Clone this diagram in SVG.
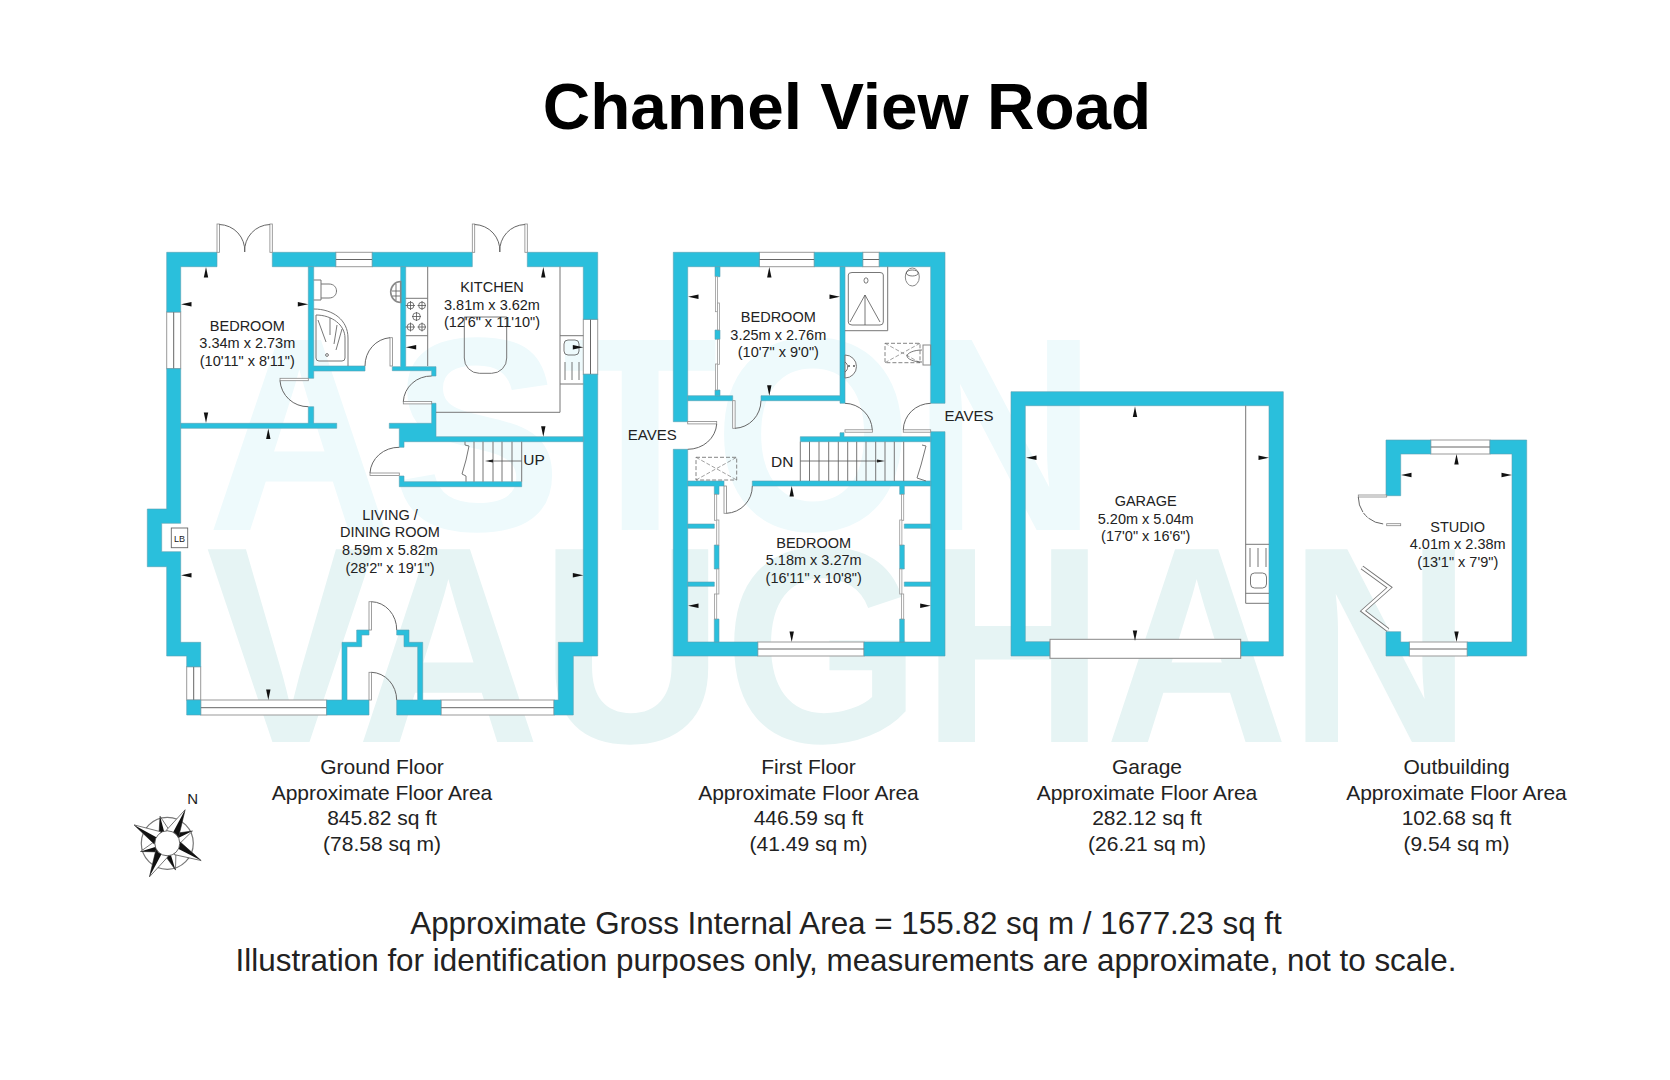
<svg xmlns="http://www.w3.org/2000/svg" xmlns:xlink="http://www.w3.org/1999/xlink" width="1670" height="1080" viewBox="0 0 1670 1080">
<style>
text{font-family:"Liberation Sans",Arial,sans-serif;fill:#222}
.r{font-size:14.5px;text-anchor:middle}
.f{font-size:21px;text-anchor:middle}
.g{font-size:31.4px;text-anchor:middle}
.w{fill:#2abfdc;stroke:#5a9fb2;stroke-width:.6}
.win{fill:#fff;stroke:#999;stroke-width:1}
.m{stroke:#666;stroke-width:1;fill:none}
.l{stroke:#777;stroke-width:1;fill:none}
.leaf{fill:#fff;stroke:#888;stroke-width:.8}
.dash{stroke:#777;stroke-width:.9;fill:none;stroke-dasharray:4 2}
.thin{stroke:#555;stroke-width:.8;fill:none}
.ol{fill:#fff;stroke:#333;stroke-width:.6}
</style>
<defs>
<polygon id="t" points="0,0 2.2,10.5 -2.2,10.5" fill="#111"/>
<g id="lr"><polygon class="ol" points="0,-38 7,-11 -7,-11"/><polygon points="0,-38 7,-11 0,-11" fill="#111"/></g>
<g id="ll"><polygon class="ol" points="0,-38 7,-11 -7,-11"/><polygon points="0,-38 -7,-11 0,-11" fill="#111"/></g>
<g id="sr"><polygon class="ol" points="0,-28 6,-10 -6,-10"/><polygon points="0,-28 6,-10 0,-10" fill="#111"/></g>
<g id="sl"><polygon class="ol" points="0,-28 6,-10 -6,-10"/><polygon points="0,-28 -6,-10 0,-10" fill="#111"/></g>
</defs>
<rect width="1670" height="1080" fill="#fff"/>
<g id="watermark" font-weight="700">
<text x="207" y="530" font-size="276" textLength="890" lengthAdjust="spacingAndGlyphs" style="fill:#eefafc">ASTON</text>
<text x="206" y="742" font-size="280" textLength="1266" lengthAdjust="spacingAndGlyphs" style="fill:#e6f4f4">VAUGHAN</text>
</g>
<text x="847" y="129" font-size="65.7" font-weight="700" text-anchor="middle" style="fill:#000">Channel View Road</text>

<g id="ground-floor">
<!-- windows -->
<rect class="win" x="166.7" y="312" width="14" height="56.7"/><path class="m" d="M173.7 312V368.7"/>
<rect class="win" x="335.7" y="252.3" width="36.6" height="14.4"/><path class="m" d="M335.7 259.5H372.3"/>
<rect class="win" x="583.3" y="319.3" width="14.4" height="55"/><path class="m" d="M590.5 319.3V374.3"/>
<rect class="win" x="186.7" y="666.7" width="14" height="33.3"/><path class="m" d="M193.7 666.7V700"/>
<rect class="win" x="200.7" y="700" width="126" height="15"/><path class="m" d="M200.7 707.7H326.7"/>
<rect class="win" x="441" y="700" width="113" height="15"/><path class="m" d="M441 707.7H554"/>
<!-- walls -->
<path class="w" d="M217 252.3H166.7V312H180.7V266.7H217Z"/>
<path class="w" d="M166.7 368.7V509H147.3V566.7H166.7V656H186.7V666.7H200.7V642.3H180.7V551.7H161.7V523.3H180.7V368.7Z"/>
<path class="w" d="M272.3 252.3H335.7V266.7H272.3Z"/>
<path class="w" d="M372.3 252.3H472.3V266.7H372.3Z"/>
<path class="w" d="M527.3 252.3H597.7V319.3H583.3V266.7H527.3Z"/>
<path class="w" d="M583.3 374.3H597.7V656H573.3V715H554V700H558.3V642.3H583.3Z"/>
<path class="w" d="M186.7 700H200.7V715H186.7Z"/>
<path class="w" d="M308.3 266.7H313.7V366H365V371H313.7V378.3H308.3Z"/>
<path class="w" d="M308.3 406.7H313.7V423.3H336.7V428.3H180.7V423.3H308.3Z"/>
<path class="w" d="M400.7 266.7H405.7V366.7H436V376H431.7V370.7H392.3V366.7H400.7Z"/>
<path class="w" d="M431.7 403.3H436V436.7H583.3V441.7H404V447.3H399.3V428.3H389.3V423.3H431.7Z"/>
<path class="w" d="M399.3 476H404V481.7H521.7V486.7H399.3Z"/>
<path class="w" d="M326.7 700H342V642.3H356.7V630H369V635H361.7V646.7H347V700H369V715H326.7Z"/>
<path class="w" d="M396.7 630H409V642.3H422.7V700H441V715H396.7V700H417.7V646.7H404V635H396.7Z"/>
<!-- doors -->
<rect class="leaf" x="217" y="224" width="2.4" height="28.3"/><rect class="leaf" x="269.9" y="224" width="2.4" height="28.3"/>
<path class="m" d="M219.4 224.5A26 26 0 0 1 244.7 252M269.9 224.5A26 26 0 0 0 244.7 252"/>
<rect class="leaf" x="472.3" y="224" width="2.4" height="28.3"/><rect class="leaf" x="524.9" y="224" width="2.4" height="28.3"/>
<path class="m" d="M474.7 224.5A26 26 0 0 1 499.8 252M524.9 224.5A26 26 0 0 0 499.8 252"/>
<rect class="leaf" x="280" y="378.3" width="28.3" height="2.4"/><path class="m" d="M280 380.7A28 28 0 0 0 308.3 406.7"/>
<rect class="leaf" x="390" y="337.7" width="2.4" height="28.3"/><path class="m" d="M390 337.7A27 28 0 0 0 365 366"/>
<rect class="leaf" x="403.3" y="401.5" width="28.4" height="2.4"/><path class="m" d="M403.3 401.5A28 27 0 0 1 431.7 376"/>
<rect class="leaf" x="370" y="473" width="29.3" height="2.4"/><path class="m" d="M370 473A29 27 0 0 1 399.3 447.3"/>
<rect class="leaf" x="369" y="601.7" width="2.4" height="28.3"/><path class="m" d="M371.4 601.7A26 28 0 0 1 396.7 630"/>
<rect class="leaf" x="369" y="672.3" width="2.4" height="27.7"/><path class="m" d="M371.4 672.3A26 28 0 0 1 396.7 700"/>
<!-- stairs -->
<path class="l" d="M465 441.7V445L469 446L466 460L462 474L466 476V481.7M474 441.7V481.7M483 441.7V481.7M493 441.7V481.7M502 441.7V481.7M512 441.7V481.7M521.7 441.7V481.7"/>
<path class="thin" d="M521.7 461H489"/><polygon points="485,461 493,459.5 493,462.5" fill="#222"/>
<text x="534" y="464.8" style="font-size:15.5px;text-anchor:middle">UP</text>
<!-- kitchen units -->
<path class="l" d="M427.7 266.7V366M560 266.7V412.3H436M405.7 298.3H427.7M405.7 335.7H427.7M560 335.7H583.3M560 384H583.3"/>
<path class="l" d="M464.3 317H506.7M464.3 317V358a15 15 0 0 0 15 15.3H491.7a15 15 0 0 0 15-15.3V317"/>
<g class="thin">
<circle cx="410.5" cy="305.5" r="3.4"/><circle cx="422" cy="305.5" r="3.4"/><circle cx="416.5" cy="316.5" r="3.8"/><circle cx="410.5" cy="327" r="3.4"/><circle cx="422" cy="327" r="3.4"/>
<path d="M405.5 305.5H415M417.5 305.5H426M412 316.5H421M405.5 327H415M417.5 327H426M410.5 301V310M422 301V310M416.5 312V321M410.5 322.5V331.5M422 322.5V331.5"/>
</g>
<rect class="thin" x="564" y="340" width="15" height="15" rx="4"/><path class="thin" d="M565 362V380M572 362V380M579 362V380"/>
<!-- bathroom -->
<path class="l" d="M313.7 280H321V300H313.7M321 284H329C339 284 339 298 329 298H321"/>
<path class="l" d="M313.7 309C333 309 348 320 348 338V366M316 315C332 315 345 325 345 338V358Q345 361 342 361H319Q316 361 316 358Z"/>
<path class="thin" d="M318 320L326 342M330 335V318M337 325L334 344M342 329L336 350"/>
<circle cx="327" cy="355" r="1.4" class="thin"/>
<path d="M400.7 281.5A10 10.5 0 1 0 400.7 302.5V281.5Z" fill="#fff" stroke="#888" stroke-width="1.6"/>
<path class="thin" d="M396 284V300M392 291H400M392 296H400"/>
<!-- LB -->
<rect x="171.3" y="528" width="16.4" height="19.7" fill="#fff" stroke="#666" stroke-width=".9"/>
<text x="179.5" y="541.5" style="font-size:9px;text-anchor:middle">LB</text>
<!-- ticks -->
<use href="#t" transform="translate(206 267)"/>
<use href="#t" transform="translate(181 304.3) rotate(-90)"/>
<use href="#t" transform="translate(308.3 304.3) rotate(90)"/>
<use href="#t" transform="translate(206 423) rotate(180)"/>
<use href="#t" transform="translate(268.3 428.5)"/>
<use href="#t" transform="translate(543.3 267)"/>
<use href="#t" transform="translate(543.3 436.7) rotate(180)"/>
<use href="#t" transform="translate(405.7 347.3) rotate(-90)"/>
<use href="#t" transform="translate(583.3 347.3) rotate(90)"/>
<use href="#t" transform="translate(181 575.3) rotate(-90)"/>
<use href="#t" transform="translate(583.3 575.3) rotate(90)"/>
<use href="#t" transform="translate(268.3 700) rotate(180)"/>
<!-- labels -->
<text class="r" x="247.3" y="331">BEDROOM</text>
<text class="r" x="247.3" y="348.3">3.34m x 2.73m</text>
<text class="r" x="247.3" y="366">(10'11" x 8'11")</text>
<text class="r" x="492" y="292.3">KITCHEN</text>
<text class="r" x="492" y="310">3.81m x 3.62m</text>
<text class="r" x="492" y="327.3">(12'6" x 11'10")</text>
<text class="r" x="390" y="520">LIVING /</text>
<text class="r" x="390" y="537.3">DINING ROOM</text>
<text class="r" x="390" y="555">8.59m x 5.82m</text>
<text class="r" x="390" y="572.7">(28'2" x 19'1")</text>
</g>

<g id="first-floor">
<rect class="win" x="759.3" y="252.3" width="55" height="14.4"/><path class="m" d="M759.3 259.5H814.3"/>
<rect class="win" x="862.7" y="252.3" width="16.6" height="14.4"/><path class="m" d="M862.7 259.5H879.3"/>
<rect class="win" x="757.7" y="642" width="106.3" height="14"/><path class="m" d="M757.7 649H864"/>
<path class="w" d="M759.3 252.3H673.3V421.7H687.7V266.7H759.3Z"/>
<path class="w" d="M814.3 252.3H862.7V266.7H814.3Z"/>
<path class="w" d="M879.3 252.3H945V403.3H930.7V266.7H879.3Z"/>
<path class="w" d="M930.7 431.7H945V656H864V642H930.7Z"/>
<path class="w" d="M673.3 449.3H687.7V642H757.7V656H673.3Z"/>
<path class="w" d="M840 266.7H845V403.3H840V400.7H761V395.7H840Z"/>
<path class="w" d="M687.7 395.7H732.7V400.7H687.7Z"/>
<path class="w" d="M800.3 436.7H840V432.7H844V436.7H930.7V441.7H800.3Z"/>
<path class="w" d="M687.7 481H724V486H719V494.3H714.3V486H687.7Z"/>
<path class="w" d="M752.3 481H930.7V486H904.3V494.3H899.7V486H752.3Z"/>
<!-- wardrobe partitions -->
<path class="w" d="M715 266.7H720V276.7H715ZM715 330H720V339.3H715ZM715 390H720V395.7H715Z"/>
<path class="w" d="M714.3 545H719V569H714.3ZM714.3 619H719V642H714.3ZM899.7 545H904.3V569H899.7ZM899.7 619H904.3V642H899.7Z"/>
<path class="w" d="M687.7 524H714.3V528.3H687.7ZM687.7 582H714.3V586.3H687.7ZM904.3 524H930.7V528.3H904.3ZM904.3 582H930.7V586.3H904.3Z"/>
<g class="leaf" style="fill:#fff;stroke:#999">
<rect x="715.5" y="276.7" width="2" height="35"/><rect x="717.5" y="303" width="2" height="27"/><rect x="717.5" y="339.3" width="2" height="25"/><rect x="715.5" y="364" width="2" height="26"/>
<rect x="714.5" y="494.3" width="2.2" height="26"/><rect x="716.7" y="520" width="2.2" height="25"/><rect x="716.7" y="569" width="2.2" height="25"/><rect x="714.5" y="594" width="2.2" height="25"/>
<rect x="901.5" y="494.3" width="2.2" height="26"/><rect x="899.7" y="520" width="2.2" height="25"/><rect x="899.7" y="569" width="2.2" height="25"/><rect x="901.5" y="594" width="2.2" height="25"/>
</g>
<!-- doors -->
<rect class="leaf" x="732.7" y="400.7" width="2.4" height="27.6"/><path class="m" d="M735 428.3A27 28 0 0 0 761 400.7"/>
<rect class="leaf" x="845" y="429.8" width="27.4" height="2.4"/><path class="m" d="M845 403.3A28 28 0 0 1 872.3 429.8"/>
<rect class="leaf" x="903.3" y="429.8" width="27.4" height="2.4"/><path class="m" d="M903.3 429.8A28 27 0 0 1 930.7 403.3"/>
<rect class="leaf" x="687.7" y="421.5" width="29" height="2.4"/><path class="m" d="M716.7 424A29 27 0 0 1 687.7 449.3"/>
<rect class="leaf" x="724" y="486" width="2.4" height="27.3"/><path class="m" d="M726.4 513.3A27 27 0 0 0 752.3 486"/>
<!-- stairs -->
<path class="l" d="M800.3 441.7V481M809.5 441.7V481M819 441.7V481M828.7 441.7V481M838.3 441.7V481M847.7 441.7V481M856.7 441.7V481M866 441.7V481M875.7 441.7V481M885 441.7V481M894.3 441.7V481M903.7 441.7V481M913 441.7M922 445L926 446L921 465L917 478L926 481"/>
<path class="thin" d="M800.3 461H878"/><polygon points="885,461 877,459.5 877,462.5" fill="#222"/>
<text x="782.3" y="467" style="font-size:15.5px;text-anchor:middle">DN</text>
<!-- bath fixtures -->
<path class="l" d="M845 330.7H887.7V266.7M848.3 275Q848.3 272.5 852 272.5H880Q883.3 272.5 883.3 275V322Q883.3 325 880 325H852Q848.3 325 848.3 322Z"/>
<path class="thin" d="M850 322L865 295L880 322M865 295V325"/>
<ellipse cx="866" cy="280.5" rx="2" ry="2.7" class="thin"/>
<ellipse cx="912.3" cy="277" rx="7" ry="9" fill="none" stroke="#888" stroke-width="1"/>
<ellipse cx="912.3" cy="273" rx="6" ry="3" class="thin"/>
<rect x="885" y="343.3" width="35" height="19.4" class="dash"/>
<path class="dash" style="stroke-width:.7" d="M885 343.3L920 362.7M885 362.7L920 343.3"/>
<rect x="923" y="345" width="7.7" height="20" fill="none" stroke="#888"/>
<path class="thin" d="M922 350C914 350 907 353 907 356C907 359 914 362 922 362"/>
<path d="M845 355A11.5 11.5 0 0 1 845 378Z" fill="#fff" stroke="#777" stroke-width="1"/>
<path d="M845 362A6 6 0 0 1 845 372" class="thin"/>
<circle cx="854" cy="366" r=".9" fill="#444"/><circle cx="849" cy="366" r=".9" fill="#444"/>
<!-- skylight -->
<rect x="696" y="457.3" width="40.7" height="22.7" class="dash"/>
<path class="dash" style="stroke-width:.7" d="M696 457.3L736.7 480M696 480L736.7 457.3"/>
<!-- ticks -->
<use href="#t" transform="translate(769.3 267)"/>
<use href="#t" transform="translate(769.3 395.7) rotate(180)"/>
<use href="#t" transform="translate(688 296.7) rotate(-90)"/>
<use href="#t" transform="translate(840 296.7) rotate(90)"/>
<use href="#t" transform="translate(791.7 486)"/>
<use href="#t" transform="translate(791.7 642) rotate(180)"/>
<use href="#t" transform="translate(688 605.7) rotate(-90)"/>
<use href="#t" transform="translate(930.7 605.7) rotate(90)"/>
<!-- labels -->
<text class="r" x="778.3" y="322.3">BEDROOM</text>
<text class="r" x="778.3" y="340">3.25m x 2.76m</text>
<text class="r" x="778.3" y="357.3">(10'7" x 9'0")</text>
<text class="r" x="813.7" y="547.7">BEDROOM</text>
<text class="r" x="813.7" y="565.3">5.18m x 3.27m</text>
<text class="r" x="813.7" y="582.7">(16'11" x 10'8")</text>
<text x="652.3" y="439.5" style="font-size:15px;text-anchor:middle">EAVES</text>
<text x="969" y="421" style="font-size:15px;text-anchor:middle">EAVES</text>
</g>

<g id="garage">
<path class="w" fill-rule="evenodd" d="M1011 391.7H1283.3V656H1011ZM1025.3 405.7V641.7H1269V405.7Z"/>
<rect x="1050" y="639.3" width="190.7" height="19" fill="#fff" stroke="#888" stroke-width="1"/>
<path class="l" d="M1245.7 405.7V603.3H1269M1245.7 544.3H1269M1245.7 593.3H1269"/>
<path class="l" d="M1250 548V567M1258 548V567M1266 548V567"/>
<rect x="1250.5" y="573" width="16" height="15" rx="4" class="thin"/>
<use href="#t" transform="translate(1135 406.5)"/>
<use href="#t" transform="translate(1135 641) rotate(180)"/>
<use href="#t" transform="translate(1026 457.7) rotate(-90)"/>
<use href="#t" transform="translate(1269 457.7) rotate(90)"/>
<text class="r" x="1145.7" y="506">GARAGE</text>
<text class="r" x="1145.7" y="523.7">5.20m x 5.04m</text>
<text class="r" x="1145.7" y="541">(17'0" x 16'6")</text>
</g>

<g id="studio">
<rect class="win" x="1430.7" y="440" width="59.3" height="14"/><path class="m" d="M1430.7 447H1490"/>
<rect class="win" x="1409.3" y="642" width="58" height="14"/><path class="m" d="M1409.3 649H1467.3"/>
<path class="w" d="M1430.7 440H1386V495.7H1400.7V454H1430.7Z"/>
<path class="w" d="M1490 440H1526.7V656H1467.3V642H1512V454H1490Z"/>
<path class="w" d="M1386 631.7H1400.7V642H1409.3V656H1386Z"/>
<rect class="leaf" x="1358.3" y="495" width="28.4" height="2"/>
<path class="m" d="M1358.3 497A27 27 0 0 0 1384 524" stroke-dasharray="16 1 6 1"/>
<rect class="leaf" x="1386.7" y="523.7" width="14" height="2"/>
<path fill="none" stroke="#777" stroke-width="4.2" stroke-linejoin="miter" d="M1362 567.5L1389.5 587.5L1363 611L1388 630"/>
<path fill="none" stroke="#fff" stroke-width="2.4" stroke-linejoin="miter" d="M1362 567.5L1389.5 587.5L1363 611L1388 630"/>
<use href="#t" transform="translate(1456.5 454)"/>
<use href="#t" transform="translate(1456.5 642) rotate(180)"/>
<use href="#t" transform="translate(1401 475) rotate(-90)"/>
<use href="#t" transform="translate(1512 475) rotate(90)"/>
<text class="r" x="1457.7" y="531.7">STUDIO</text>
<text class="r" x="1457.7" y="549">4.01m x 2.38m</text>
<text class="r" x="1457.7" y="566.7">(13'1" x 7'9")</text>
</g>

<g id="compass">
<g transform="translate(167.3 843.3)">
<circle r="26" fill="#fff" stroke="#777" stroke-width="1.2"/>
<use href="#sl" transform="rotate(-15)"/>
<use href="#sl" transform="rotate(64)"/>
<use href="#sr" transform="rotate(163)"/>
<use href="#sl" transform="rotate(253)"/>
<use href="#lr" transform="rotate(28)"/>
<use href="#ll" transform="rotate(-61)"/>
<use href="#ll" transform="rotate(117)"/>
<use href="#lr" transform="rotate(208)"/>
<circle r="12.5" fill="#fff" stroke="#444" stroke-width=".8"/>
</g>
<text x="192.7" y="804" style="font-size:15px;text-anchor:middle">N</text>
</g>

<g id="captions">
<text class="f" x="382" y="774">Ground Floor</text>
<text class="f" x="382" y="799.5">Approximate Floor Area</text>
<text class="f" x="382" y="825">845.82 sq ft</text>
<text class="f" x="382" y="850.5">(78.58 sq m)</text>
<text class="f" x="808.5" y="774">First Floor</text>
<text class="f" x="808.5" y="799.5">Approximate Floor Area</text>
<text class="f" x="808.5" y="825">446.59 sq ft</text>
<text class="f" x="808.5" y="850.5">(41.49 sq m)</text>
<text class="f" x="1147" y="774">Garage</text>
<text class="f" x="1147" y="799.5">Approximate Floor Area</text>
<text class="f" x="1147" y="825">282.12 sq ft</text>
<text class="f" x="1147" y="850.5">(26.21 sq m)</text>
<text class="f" x="1456.5" y="774">Outbuilding</text>
<text class="f" x="1456.5" y="799.5">Approximate Floor Area</text>
<text class="f" x="1456.5" y="825">102.68 sq ft</text>
<text class="f" x="1456.5" y="850.5">(9.54 sq m)</text>
<text class="g" x="846" y="934">Approximate Gross Internal Area = 155.82 sq m / 1677.23 sq ft</text>
<text class="g" x="846" y="971">Illustration for identification purposes only, measurements are approximate, not to scale.</text>
</g>
</svg>
